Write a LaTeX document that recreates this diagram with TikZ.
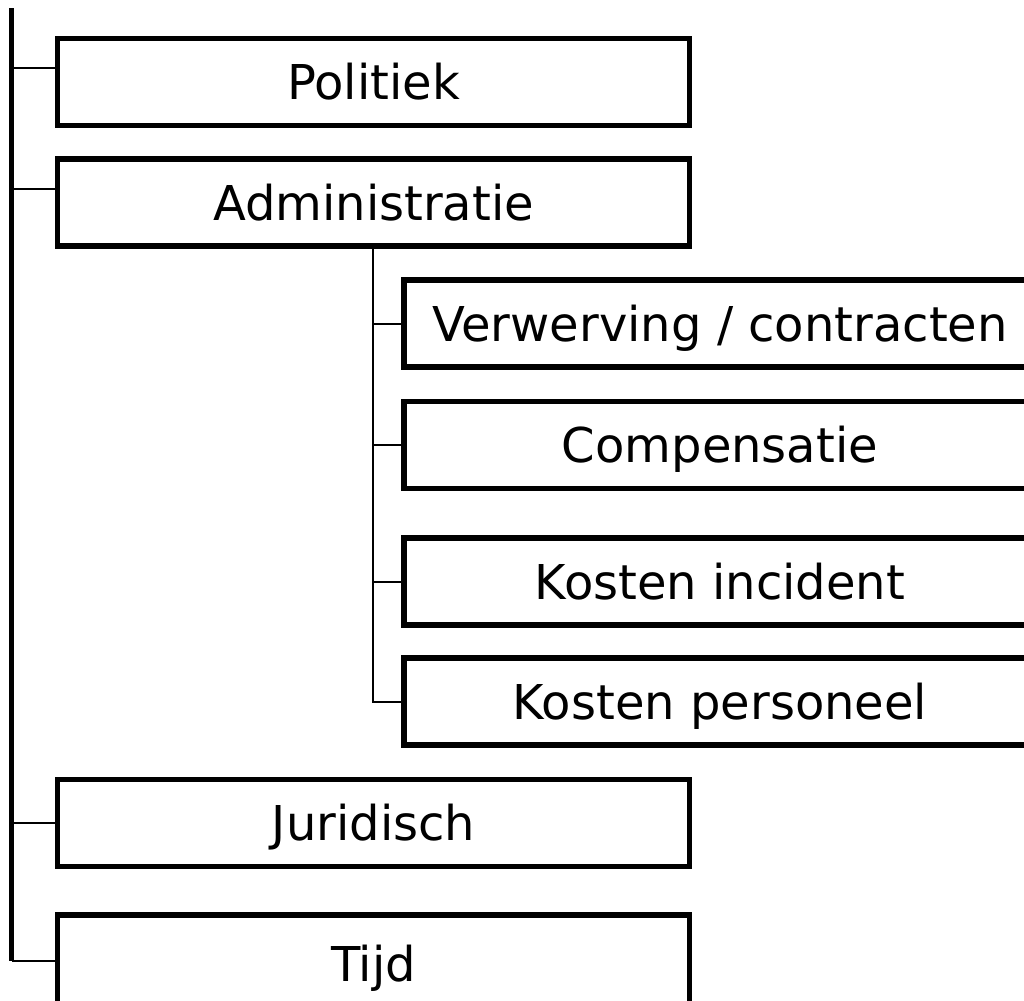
\documentclass[tikz,border=0pt]{standalone}
\usepackage{fontspec}
\setmainfont{DejaVu Sans}
\usetikzlibrary{calc}
\tikzset{
  item/.style={draw, line width=2.6pt, minimum width=316pt, minimum height=43.5pt,
    inner sep=0pt, text height=17.5pt, text depth=0pt,
    font=\fontsize{24}{29}\selectfont},
  spine/.style={line width=2.6pt},
  branch/.style={line width=1pt}
}

\begin{document}
\begin{tikzpicture}[x=0.5pt,y=-0.5pt]
			%%%%% START %%%%%
			\def\xtop{373.5}
			\def\xsub{720}
			\def\xspine{11.5}
			\clip (0,0) rectangle (1024,1001);

			\node[item] (pol) at (\xtop,82) {Politiek};
			\node[item] (adm) at (\xtop,202.5) {Administratie};
			\node[item] (verw) at (\xsub,323.5) {Verwerving / contracten};
			\node[item] (comp) at (\xsub,445) {Compensatie};
			\node[item] (inc) at (\xsub,581.5) {Kosten incident};
			\node[item] (pers) at (\xsub,701.5) {Kosten personeel};
			\node[item] (jur) at (\xtop,823) {Juridisch};
			\node[item, minimum height=46pt, text height=20pt] (tijd) at (\xtop,961) {Tijd};

			% main line
			\coordinate (top) at (\xspine,8);
			\draw[spine] (top) -- (top |- tijd.west);
			\draw[branch] ($(pol.west)+(0,-14)$) -- (top |- {$(pol.west)+(0,-14)$});
			\draw[branch] ($(adm.west)+(0,-13.5)$) -- (top |- {$(adm.west)+(0,-13.5)$});
			\draw[branch] (jur.west) -- (top |- jur.west);
			\draw[branch] (tijd.west) -- (top |- tijd.west);

			% sub line under Administratie
			\coordinate (sub) at ([xshift=-0.5pt]adm.south);
			\draw[branch] (sub) |- (pers.west);
			\draw[branch] (verw.west) -- (sub |- verw.west);
			\draw[branch] (comp.west) -- (sub |- comp.west);
			\draw[branch] (inc.west) -- (sub |- inc.west);
			%%%%% END %%%%%
\end{tikzpicture}
\end{document}
